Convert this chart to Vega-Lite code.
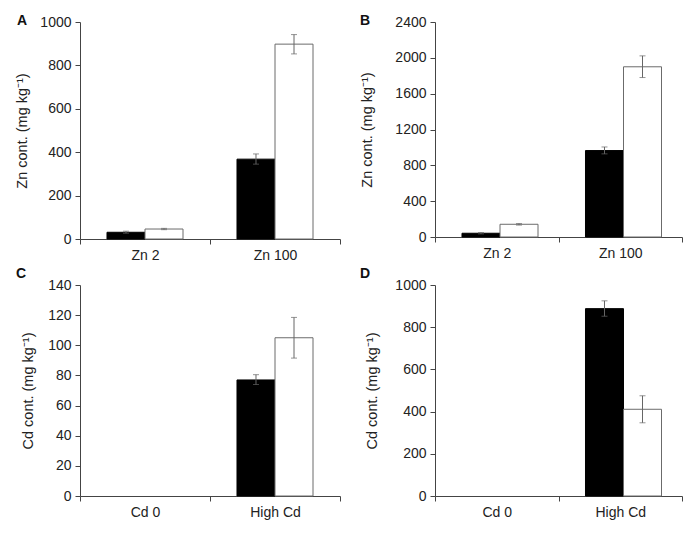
{
  "$schema": "https://vega.github.io/schema/vega-lite/v6.json",
  "padding": {"left": 14, "top": 14, "right": 5, "bottom": 5},
  "background": "white",
  "data": {
    "values": [
      {"panel": "A", "group": "Zn 2", "series": "s1", "value": 31, "lo": 27, "hi": 36},
      {"panel": "A", "group": "Zn 2", "series": "s2", "value": 46, "lo": 43, "hi": 49},
      {"panel": "A", "group": "Zn 100", "series": "s1", "value": 368, "lo": 345, "hi": 392},
      {"panel": "A", "group": "Zn 100", "series": "s2", "value": 898, "lo": 853, "hi": 942},
      {"panel": "B", "group": "Zn 2", "series": "s1", "value": 42, "lo": 35, "hi": 50},
      {"panel": "B", "group": "Zn 2", "series": "s2", "value": 142, "lo": 133, "hi": 150},
      {"panel": "B", "group": "Zn 100", "series": "s1", "value": 965, "lo": 928, "hi": 1005},
      {"panel": "B", "group": "Zn 100", "series": "s2", "value": 1900, "lo": 1780, "hi": 2022},
      {"panel": "C", "group": "Cd 0", "series": "s1", "value": 0},
      {"panel": "C", "group": "Cd 0", "series": "s2", "value": 0},
      {"panel": "C", "group": "High Cd", "series": "s1", "value": 77, "lo": 74, "hi": 80.5},
      {"panel": "C", "group": "High Cd", "series": "s2", "value": 105, "lo": 91.5, "hi": 118.5},
      {"panel": "D", "group": "Cd 0", "series": "s1", "value": 0},
      {"panel": "D", "group": "Cd 0", "series": "s2", "value": 0},
      {"panel": "D", "group": "High Cd", "series": "s1", "value": 888, "lo": 852, "hi": 925},
      {"panel": "D", "group": "High Cd", "series": "s2", "value": 411, "lo": 347, "hi": 475}
    ]
  },
  "columns": 2,
  "spacing": {"row": 46, "column": 95},
  "bounds": "flush",
  "concat": [
    {
      "width": 260, "height": 217,
      "title": {"text": "A", "anchor": "start", "frame": "group", "dx": -63, "offset": -13},
      "transform": [{"filter": "datum.panel === 'A'"}],
      "encoding": {
        "x": {"field": "group", "type": "nominal", "sort": null, "scale": {"domain": ["Zn 2", "Zn 100"], "paddingInner": 0, "paddingOuter": 0}, "axis": {"title": null, "labelAngle": 0, "tickBand": "extent"}},
        "xOffset": {"field": "series", "type": "nominal", "scale": {"domain": ["s1", "s2"], "paddingOuter": 0.71, "paddingInner": 0}}
      },
      "layer": [
        {"mark": {"type": "bar", "strokeWidth": 1}, "encoding": {
          "y": {"field": "value", "type": "quantitative", "title": "Zn cont. (mg kg⁻¹)", "scale": {"domain": [0, 1000]}, "axis": {"values": [0, 200, 400, 600, 800, 1000], "tickCount": 20, "format": "d", "titleX": -58, "labelOverlap": false}},
          "fill": {"field": "series", "type": "nominal", "scale": {"domain": ["s1", "s2"], "range": ["#000000", "#ffffff"]}, "legend": null},
          "stroke": {"field": "series", "type": "nominal", "scale": {"domain": ["s1", "s2"], "range": ["#000000", "#6b6b6b"]}, "legend": null}}},
        {"mark": {"type": "rule", "color": "#666666"}, "encoding": {"y": {"field": "lo", "type": "quantitative", "title": "Zn cont. (mg kg⁻¹)"}, "y2": {"field": "hi"}}},
        {"mark": {"type": "tick", "color": "#666666", "size": 6, "thickness": 1}, "encoding": {"y": {"field": "lo", "type": "quantitative", "title": "Zn cont. (mg kg⁻¹)"}}},
        {"mark": {"type": "tick", "color": "#666666", "size": 6, "thickness": 1}, "encoding": {"y": {"field": "hi", "type": "quantitative", "title": "Zn cont. (mg kg⁻¹)"}}}
      ]
    },
    {
      "width": 247, "height": 215,
      "title": {"text": "B", "anchor": "start", "frame": "group", "dx": -75, "offset": -13},
      "transform": [{"filter": "datum.panel === 'B'"}],
      "encoding": {
        "x": {"field": "group", "type": "nominal", "sort": null, "scale": {"domain": ["Zn 2", "Zn 100"], "paddingInner": 0, "paddingOuter": 0}, "axis": {"title": null, "labelAngle": 0, "tickBand": "extent"}},
        "xOffset": {"field": "series", "type": "nominal", "scale": {"domain": ["s1", "s2"], "paddingOuter": 0.74, "paddingInner": 0}}
      },
      "layer": [
        {"mark": {"type": "bar", "strokeWidth": 1}, "encoding": {
          "y": {"field": "value", "type": "quantitative", "title": "Zn cont. (mg kg⁻¹)", "scale": {"domain": [0, 2400]}, "axis": {"values": [0, 400, 800, 1200, 1600, 2000, 2400], "tickCount": 20, "format": "d", "titleX": -68, "labelOverlap": false}},
          "fill": {"field": "series", "type": "nominal", "scale": {"domain": ["s1", "s2"], "range": ["#000000", "#ffffff"]}, "legend": null},
          "stroke": {"field": "series", "type": "nominal", "scale": {"domain": ["s1", "s2"], "range": ["#000000", "#6b6b6b"]}, "legend": null}}},
        {"mark": {"type": "rule", "color": "#666666"}, "encoding": {"y": {"field": "lo", "type": "quantitative", "title": "Zn cont. (mg kg⁻¹)"}, "y2": {"field": "hi"}}},
        {"mark": {"type": "tick", "color": "#666666", "size": 6, "thickness": 1}, "encoding": {"y": {"field": "lo", "type": "quantitative", "title": "Zn cont. (mg kg⁻¹)"}}},
        {"mark": {"type": "tick", "color": "#666666", "size": 6, "thickness": 1}, "encoding": {"y": {"field": "hi", "type": "quantitative", "title": "Zn cont. (mg kg⁻¹)"}}}
      ]
    },
    {
      "width": 260, "height": 211,
      "title": {"text": "C", "anchor": "start", "frame": "group", "dx": -64, "offset": -3},
      "transform": [{"filter": "datum.panel === 'C'"}],
      "encoding": {
        "x": {"field": "group", "type": "nominal", "sort": null, "scale": {"domain": ["Cd 0", "High Cd"], "paddingInner": 0, "paddingOuter": 0}, "axis": {"title": null, "labelAngle": 0, "tickBand": "extent"}},
        "xOffset": {"field": "series", "type": "nominal", "scale": {"domain": ["s1", "s2"], "paddingOuter": 0.71, "paddingInner": 0}}
      },
      "layer": [
        {"transform": [{"filter": "datum.value > 0"}], "mark": {"type": "bar", "strokeWidth": 1}, "encoding": {
          "y": {"field": "value", "type": "quantitative", "title": "Cd cont. (mg kg⁻¹)", "scale": {"domain": [0, 140]}, "axis": {"values": [0, 20, 40, 60, 80, 100, 120, 140], "tickCount": 20, "format": "d", "titleX": -52, "labelOverlap": false}},
          "fill": {"field": "series", "type": "nominal", "scale": {"domain": ["s1", "s2"], "range": ["#000000", "#ffffff"]}, "legend": null},
          "stroke": {"field": "series", "type": "nominal", "scale": {"domain": ["s1", "s2"], "range": ["#000000", "#6b6b6b"]}, "legend": null}}},
        {"mark": {"type": "rule", "color": "#666666"}, "encoding": {"y": {"field": "lo", "type": "quantitative", "title": "Cd cont. (mg kg⁻¹)"}, "y2": {"field": "hi"}}},
        {"mark": {"type": "tick", "color": "#666666", "size": 6, "thickness": 1}, "encoding": {"y": {"field": "lo", "type": "quantitative", "title": "Cd cont. (mg kg⁻¹)"}}},
        {"mark": {"type": "tick", "color": "#666666", "size": 6, "thickness": 1}, "encoding": {"y": {"field": "hi", "type": "quantitative", "title": "Cd cont. (mg kg⁻¹)"}}}
      ]
    },
    {
      "width": 247, "height": 211,
      "title": {"text": "D", "anchor": "start", "frame": "group", "dx": -75, "offset": -3},
      "transform": [{"filter": "datum.panel === 'D'"}],
      "encoding": {
        "x": {"field": "group", "type": "nominal", "sort": null, "scale": {"domain": ["Cd 0", "High Cd"], "paddingInner": 0, "paddingOuter": 0}, "axis": {"title": null, "labelAngle": 0, "tickBand": "extent"}},
        "xOffset": {"field": "series", "type": "nominal", "scale": {"domain": ["s1", "s2"], "paddingOuter": 0.74, "paddingInner": 0}}
      },
      "layer": [
        {"transform": [{"filter": "datum.value > 0"}], "mark": {"type": "bar", "strokeWidth": 1}, "encoding": {
          "y": {"field": "value", "type": "quantitative", "title": "Cd cont. (mg kg⁻¹)", "scale": {"domain": [0, 1000]}, "axis": {"values": [0, 200, 400, 600, 800, 1000], "tickCount": 20, "format": "d", "titleX": -63, "labelOverlap": false}},
          "fill": {"field": "series", "type": "nominal", "scale": {"domain": ["s1", "s2"], "range": ["#000000", "#ffffff"]}, "legend": null},
          "stroke": {"field": "series", "type": "nominal", "scale": {"domain": ["s1", "s2"], "range": ["#000000", "#6b6b6b"]}, "legend": null}}},
        {"mark": {"type": "rule", "color": "#666666"}, "encoding": {"y": {"field": "lo", "type": "quantitative", "title": "Cd cont. (mg kg⁻¹)"}, "y2": {"field": "hi"}}},
        {"mark": {"type": "tick", "color": "#666666", "size": 6, "thickness": 1}, "encoding": {"y": {"field": "lo", "type": "quantitative", "title": "Cd cont. (mg kg⁻¹)"}}},
        {"mark": {"type": "tick", "color": "#666666", "size": 6, "thickness": 1}, "encoding": {"y": {"field": "hi", "type": "quantitative", "title": "Cd cont. (mg kg⁻¹)"}}}
      ]
    }
  ],
  "config": {
    "view": {"stroke": null},
    "title": {"font": "Liberation Sans", "fontSize": 14, "fontWeight": "bold", "color": "#111111", "align": "left"},
    "axis": {
      "labelFont": "Liberation Sans", "titleFont": "Liberation Sans",
      "labelFontSize": 14, "titleFontSize": 14.5, "titleFontWeight": "normal",
      "labelColor": "#222222", "titleColor": "#222222",
      "domainColor": "#444444", "tickColor": "#444444",
      "grid": false, "tickSize": 5, "labelPadding": 4, "labelOverlap": false
    },
    "axisY": {"titleBaseline": "middle"}
  }
}
